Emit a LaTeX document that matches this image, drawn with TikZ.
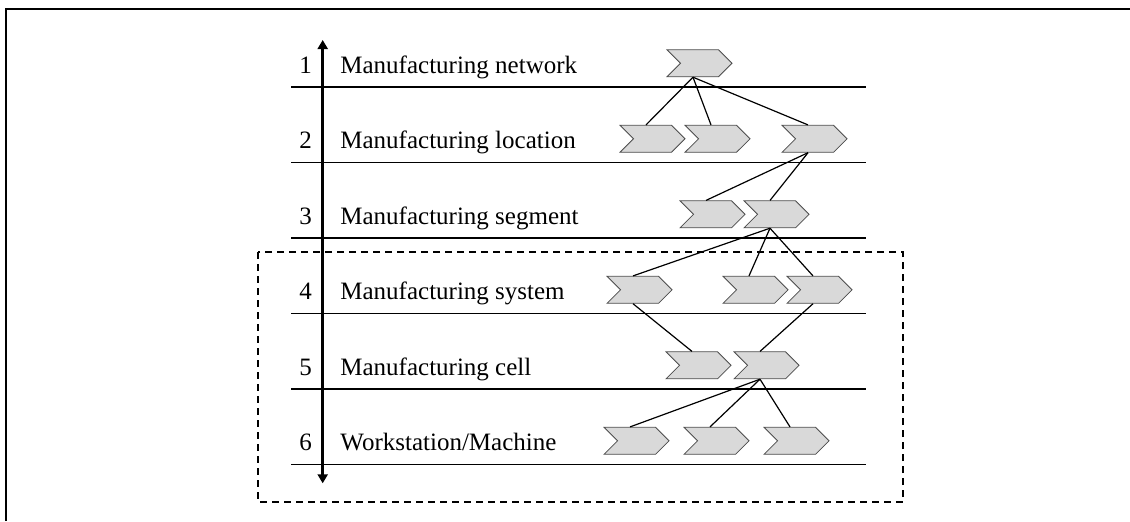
\documentclass[tikz,border=0pt]{standalone}
\usepackage{fontspec}
\setmainfont{Liberation Serif}
\usepackage{tikz}
\usetikzlibrary{shapes.symbols,arrows.meta}

\begin{document}
\begin{tikzpicture}[x=0.5pt,y=-0.5pt,
		chev/.style={draw=black!70,fill=black!15,line width=0.4pt,signal,signal to=east,signal from=west,signal pointer angle=90,minimum width=32.5pt,minimum height=13.5pt,inner sep=0pt},
		lvl/.style={font=\fontsize{12.5}{15}\selectfont,anchor=base west,inner sep=0pt},
		num/.style={font=\fontsize{12.5}{15}\selectfont,anchor=base,inner sep=0pt},
		sep/.style={line width=0.8pt},
		tie/.style={line width=0.6pt}]
			\useasboundingbox (0,0) rectangle (1130,521);
			\draw[line width=1.1pt] (6,521) -- (6,9) -- (1130,9);
			\draw[line width=0.7pt,dash pattern=on 3.5pt off 2.5pt] (258,252) rectangle (903,502);
			
			% levels
			\node[num] (n1)at(305.5,73) {1};
			\node[num] (n2)at(305.5,148.5) {2};
			\node[num] (n3)at(305.5,224) {3};
			\node[num] (n4)at(305.5,299.5) {4};
			\node[num] (n5)at(305.5,375) {5};
			\node[num] (n6)at(305.5,450.5) {6};
			\node[lvl] (t1)at(340,73) {Manufacturing network};
			\node[lvl] (t2)at(340,148.5) {Manufacturing location};
			\node[lvl] (t3)at(340,224) {Manufacturing segment};
			\node[lvl] (t4)at(340,299.5) {Manufacturing system};
			\node[lvl] (t5)at(340,375) {Manufacturing cell};
			\node[lvl] (t6)at(340,450.5) {Workstation/Machine};
			
			\draw[sep] (291,86.8) -- (866,86.8);
			\draw[sep] (291,162.3) -- (866,162.3);
			\draw[sep] (291,237.8) -- (866,237.8);
			\draw[sep] (291,313.3) -- (866,313.3);
			\draw[sep] (291,388.8) -- (866,388.8);
			\draw[sep] (291,464.3) -- (866,464.3);
			
			\coordinate (top)at(322.7,40);
			\coordinate (bot)at(322.7,483.3);
			\draw[line width=1.3pt,{Triangle[width=5pt,length=4.5pt]}-{Triangle[width=5pt,length=4.5pt]}] (bot) -- (top);
			
			% chevrons
			\node[chev] (net)at(699.5,63.3) {};
			\node[chev] (loc1)at(652.5,138.8) {};
			\node[chev] (loc2)at(717.5,138.8) {};
			\node[chev] (loc3)at(814.5,138.8) {};
			\node[chev] (seg1)at(712.5,214.3) {};
			\node[chev] (seg2)at(776.5,214.3) {};
			\node[chev] (sys1)at(639.5,289.8) {};
			\node[chev] (sys2)at(755.5,289.8) {};
			\node[chev] (sys3)at(819.5,289.8) {};
			\node[chev] (cell1)at(698.5,365.3) {};
			\node[chev] (cell2)at(766.5,365.3) {};
			\node[chev] (ws1)at(636.5,440.8) {};
			\node[chev] (ws2)at(716.5,440.8) {};
			\node[chev] (ws3)at(796.5,440.8) {};
			
			\draw[tie] ([xshift=-3.25pt]net.south) -- ([xshift=-3.25pt]loc1.north);
			\draw[tie] ([xshift=-3.25pt]net.south) -- ([xshift=-3.25pt]loc2.north);
			\draw[tie] ([xshift=-3.25pt]net.south) -- ([xshift=-3.25pt]loc3.north);
			\draw[tie] ([xshift=-3.25pt]loc3.south) -- ([xshift=-3.25pt]seg1.north);
			\draw[tie] ([xshift=-3.25pt]loc3.south) -- ([xshift=-3.25pt]seg2.north);
			\draw[tie] ([xshift=-3.25pt]seg2.south) -- ([xshift=-3.25pt]sys1.north);
			\draw[tie] ([xshift=-3.25pt]seg2.south) -- ([xshift=-3.25pt]sys2.north);
			\draw[tie] ([xshift=-3.25pt]seg2.south) -- ([xshift=-3.25pt]sys3.north);
			\draw[tie] ([xshift=-3.25pt]sys1.south) -- ([xshift=-3.25pt]cell1.north);
			\draw[tie] ([xshift=-3.25pt]sys3.south) -- ([xshift=-3.25pt]cell2.north);
			\draw[tie] ([xshift=-3.25pt]cell2.south) -- ([xshift=-3.25pt]ws1.north);
			\draw[tie] ([xshift=-3.25pt]cell2.south) -- ([xshift=-3.25pt]ws2.north);
			\draw[tie] ([xshift=-3.25pt]cell2.south) -- ([xshift=-3.25pt]ws3.north);
		\end{tikzpicture}
\end{document}
